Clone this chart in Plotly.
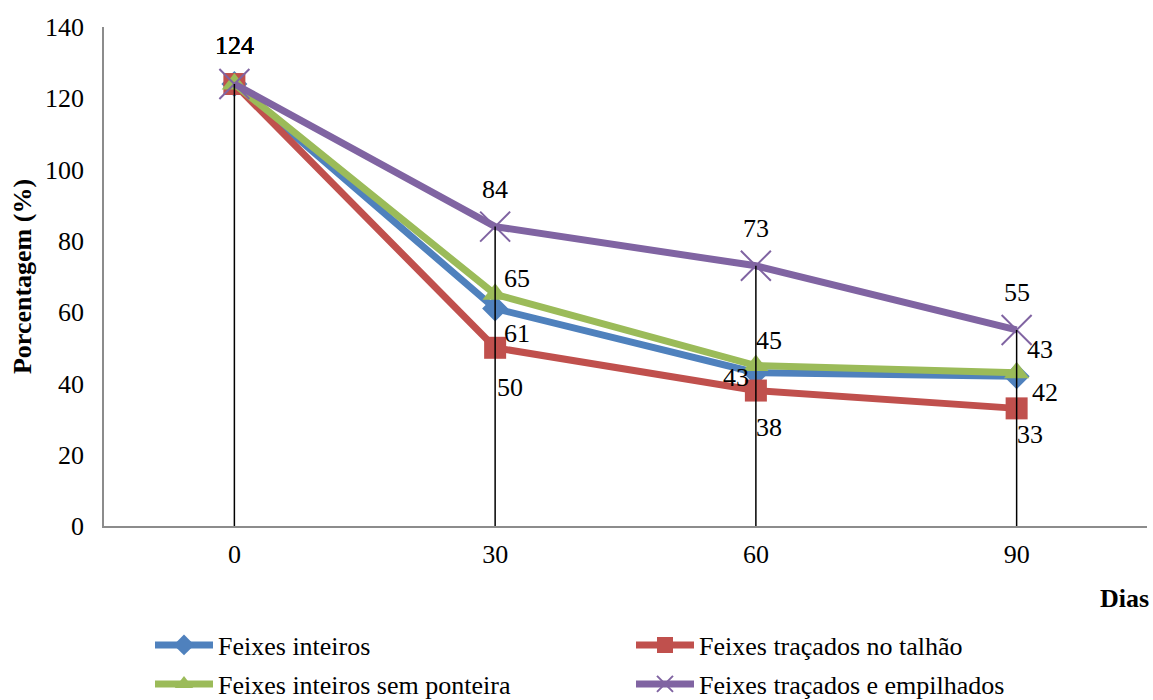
import plotly.graph_objects as go

# Dias de observação (eixo de categorias)
dias = ["0", "30", "60", "90"]

# Porcentagem por tratamento
feixes_inteiros = [124, 61, 43, 42]
feixes_tracados_talhao = [124, 50, 38, 33]
feixes_inteiros_sem_ponteira = [124, 65, 45, 43]
feixes_tracados_empilhados = [124, 84, 73, 55]

FONT = "'Liberation Serif', 'DejaVu Serif', serif"
FS = 26
idx = list(range(len(dias)))

# Área do gráfico em pixels
PL, PR, PT, PB = 104, 1147, 27, 526
W, H = 1153, 700

series = [
    # name, values, color, symbol, size, legend id, label offsets (dx, dy) per point
    ("Feixes inteiros", feixes_inteiros, "#4F81BD", "diamond", 20, "legend",
     [(0, -39), (22, 25), (-20, 5), (28, 16)]),
    ("Feixes traçados no talhão", feixes_tracados_talhao, "#C0504D", "square", 22, "legend",
     [(0, -39), (15, 40), (13, 37), (13, 26)]),
    ("Feixes inteiros sem ponteira", feixes_inteiros_sem_ponteira, "#9BBB59", "triangle-up", 22, "legend2",
     [(0, -39), (22, -16), (13, -25), (23, -23)]),
    ("Feixes traçados e empilhados", feixes_tracados_empilhados, "#8064A2", "x-thin-open", 30, "legend2",
     [(0, -39), (0, -37), (0, -37), (0, -37)]),
]

fig = go.Figure()
annotations = []
for name, vals, color, symbol, size, leg, offs in series:
    marker = dict(symbol=symbol, size=size, color=color)
    if symbol == "x-thin-open":
        marker["line"] = dict(color=color, width=2)
    fig.add_trace(go.Scatter(
        x=idx, y=vals, name=name, mode="lines+markers",
        line=dict(color=color, width=7), marker=marker, legend=leg,
    ))
    for i, v in enumerate(vals):
        dx, dy = offs[i]
        annotations.append(dict(
            x=i, y=v, xref="x", yref="y", text=str(v), showarrow=False,
            xshift=dx, yshift=-dy, font=dict(family=FONT, size=FS, color="black"),
        ))

# Linhas de projeção: do maior valor de cada dia até o eixo
all_vals = [s[1] for s in series]
drop_x, drop_y = [], []
for i in idx:
    top = max(v[i] for v in all_vals)
    drop_x += [i, i, None]
    drop_y += [top, 0, None]
fig.add_trace(go.Scatter(
    x=drop_x, y=drop_y, mode="lines", line=dict(color="black", width=1.5),
    showlegend=False, hoverinfo="skip",
))

# Título do eixo X, à direita abaixo dos rótulos
annotations.append(dict(
    x=(1151 - PL) / (PR - PL), y=(PB - 598) / (PB - PT),
    xref="paper", yref="paper", xanchor="right", yanchor="middle",
    text="<b>Dias</b>", showarrow=False,
    font=dict(family=FONT, size=FS, color="black"),
))

legend_common = dict(
    orientation="h", xref="container", yref="container",
    xanchor="left", yanchor="middle", entrywidth=408, entrywidthmode="pixels",
    itemwidth=58, font=dict(family=FONT, size=FS, color="black"),
    bgcolor="rgba(0,0,0,0)", traceorder="normal",
)

fig.update_layout(
    width=W, height=H,
    paper_bgcolor="white", plot_bgcolor="white",
    margin=dict(l=PL, r=W - PR, t=PT, b=H - PB),
    font=dict(family=FONT, size=FS, color="black"),
    xaxis=dict(
        range=[-0.5, 3.5], tickvals=idx, ticktext=dias,
        showgrid=False, zeroline=False, showline=True, linecolor="#8C8C8C",
        linewidth=1.5, ticks="", ticklabelstandoff=4,
        tickfont=dict(family=FONT, size=FS, color="black"),
    ),
    yaxis=dict(
        range=[0, 140], tickvals=[0, 20, 40, 60, 80, 100, 120, 140],
        showgrid=False, zeroline=False, showline=True, linecolor="#8C8C8C",
        linewidth=1.5, ticks="", ticklabelstandoff=13,
        tickfont=dict(family=FONT, size=FS, color="black"),
        title=dict(text="<b>Porcentagem (%)</b>", font=dict(family=FONT, size=FS, color="black"),
                   standoff=6),
    ),
    legend=dict(legend_common, x=150 / W, y=1 - 645 / H),
    legend2=dict(legend_common, x=150 / W, y=1 - 684 / H),
    annotations=annotations,
)

fig.write_html("out.html")
